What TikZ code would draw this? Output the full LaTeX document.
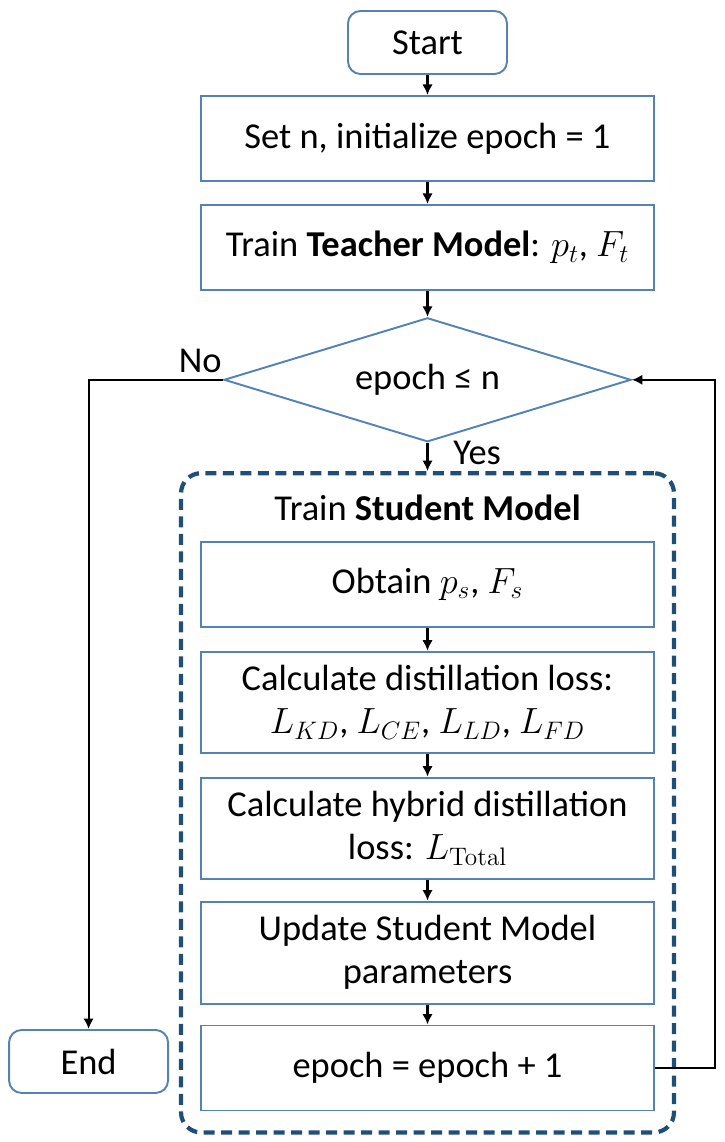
\documentclass[tikz,border=0pt]{standalone}
\usepackage[no-math]{fontspec}
\setmainfont{Carlito}
\usetikzlibrary{positioning, shapes.geometric, arrows.meta, fit}
\definecolor{boxblue}{RGB}{84,130,181}
\definecolor{frameblue}{RGB}{31,78,121}
\tikzset{
    process/.style={draw=boxblue, line width=1.1pt, minimum width=9.06cm, minimum height=1.7cm, align=center, inner sep=2pt},
    terminal/.style={draw=boxblue, line width=1.1pt, rounded corners=0.25cm, minimum width=3.18cm, minimum height=1.26cm},
    decision/.style={diamond, draw=boxblue, line width=1.1pt, aspect=3.3, minimum width=8.14cm, minimum height=2.48cm, inner sep=1pt},
    studentframe/.style={draw=frameblue, line width=2.4pt, dash pattern=on 0.22cm off 0.13cm, rounded corners=0.4cm}
}

\begin{document}
\begin{tikzpicture}[
    flow/.style={-{Latex[length=2.1mm, width=2.1mm]}, line width=1.2pt},
    font=\fontsize{20.74}{24.5}\selectfont, node distance=0.5cm
]
    \useasboundingbox (0,0) rectangle (14.5,-22.84);
    \node[terminal] (start) at (8.55,-0.85) {Start};
    \node[process, below=0.4cm of start] (init) {Set n, initialize epoch = 1};
    \node[process, below=0.44cm of init] (teacher) {Train \textbf{Teacher Model}: $p_t$, $F_t$};
    \node[decision, below=0.52cm of teacher] (check) {epoch ≤ n};
    \node[process, below=1.96cm of check] (obtain) {Obtain $p_s$, $F_s$};
    \node[inner sep=0pt, above=0.4cm of obtain] (title) {Train \textbf{Student Model}};
    \node[process, below=0.46cm of obtain, minimum height=2.02cm] (distill) {Calculate distillation loss:\\ $L_{KD}$, $L_{CE}$, $L_{LD}$, $L_{FD}$};
    \node[process, below=0.46cm of distill, minimum height=2.02cm] (hybrid) {Calculate hybrid distillation\\ loss: $L_{\mathrm{Total}}$};
    \node[process, below=0.42cm of hybrid, minimum height=2.04cm] (update) {Update Student Model\\ parameters};
    \node[process, below=0.4cm of update] (increment) {epoch = epoch + 1};
    \node[terminal, left=0.62cm of increment, yshift=0.13cm] (stop) {End};
    \node[studentframe, fit=(title)(obtain)(increment), inner xsep=0.38cm, inner ysep=0.42cm] (student) {};

    \draw[flow] (start) -- (init);
    \draw[flow] (init) -- (teacher);
    \draw[flow] (teacher) -- (check);
    \draw[flow] (check.south) -- node[right=0.38cm, pos=0.35] {Yes} (student.north);
    \draw[flow] (obtain) -- (distill);
    \draw[flow] (distill) -- (hybrid);
    \draw[flow] (hybrid) -- (update);
    \draw[flow] (update) -- (increment);
    \draw[flow] (check.west) -| node[above, pos=0.085] {No} (stop.north);
    \draw[flow] (increment.east) -- ++(1.2,0) |- (check.east);
\end{tikzpicture}
\end{document}
